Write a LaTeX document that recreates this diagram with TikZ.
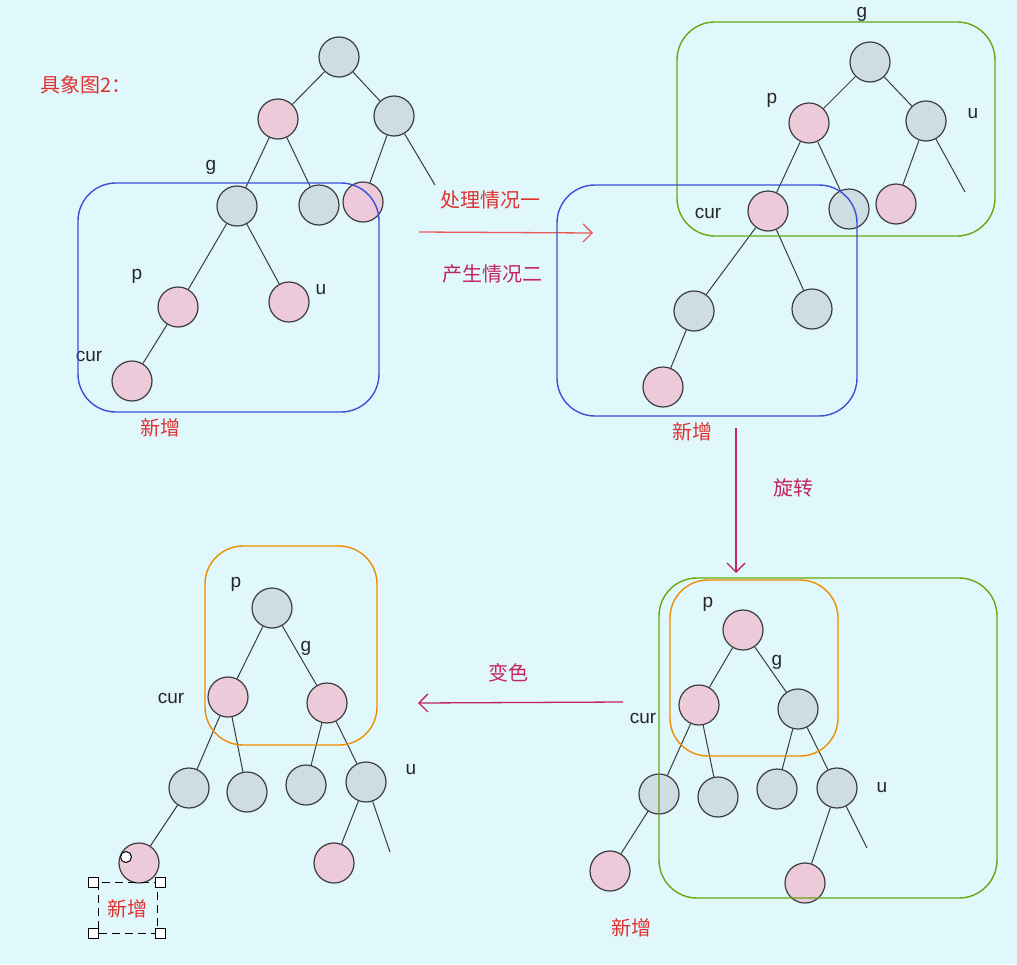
\documentclass[tikz,border=0pt]{standalone}
\usepackage{fontspec}
\setmainfont{Liberation Sans}
\newfontfamily\cjk{Noto Sans CJK SC}
\usetikzlibrary{arrows.meta}
\definecolor{bgc}{RGB}{224,248,251}
\definecolor{grayn}{RGB}{206,221,225}
\definecolor{pinkn}{RGB}{236,202,218}
\definecolor{redt}{RGB}{224,49,49}
\definecolor{crim}{RGB}{194,37,92}
\definecolor{bluebox}{RGB}{59,80,214}
\definecolor{greenbox}{RGB}{102,168,15}
\definecolor{orangebox}{RGB}{240,140,0}
\definecolor{edgec}{RGB}{60,60,60}
\tikzset{
  nd/.style={circle,minimum size=40pt,inner sep=0pt,draw=edgec,line width=1.2pt},
  gn/.style={nd,fill=grayn},
  pn/.style={nd,fill=pinkn},
  edge/.style={draw=edgec,line width=1pt},
  lbl/.style={font=\fontsize{19}{19}\selectfont,text=black!85,inner sep=0pt},
  rt/.style={font=\cjk\fontsize{20}{20}\selectfont,text=redt,inner sep=0pt},
  ct/.style={font=\cjk\fontsize{20}{20}\selectfont,text=crim,inner sep=0pt},
  boxl/.style={rounded corners=38pt,line width=1.4pt},
  arr/.style={line width=1.3pt,-{Straight Barb[length=9pt,width=18pt]}},
}
\begin{document}
\begin{tikzpicture}[x=1pt,y=-1pt]
\useasboundingbox (0,0) rectangle (1017,964);
\fill[bgc] (0,0) rectangle (1017,964);

% title
\node[rt] (title) at (86,85) {具象图2：};

% ---------- tree 1 ----------
\node[gn] (a1) at (339,57) {};
\node[pn] (a2) at (278,119) {};
\node[gn] (a3) at (394,116) {};
\node[gn] (a4) at (237,206) {};
\node[gn] (a5) at (319,205) {};
\node[pn] (a6) at (363,202) {};
\coordinate (a7) at (435,185);
\node[pn] (a8) at (178,307) {};
\node[pn] (a9) at (289,302) {};
\node[pn] (a10) at (132,381) {};
\draw[edge] (a1)--(a2); \draw[edge] (a1)--(a3);
\draw[edge] (a2)--(a4); \draw[edge] (a2)--(a5);
\draw[edge] (a3)--(a6); \draw[edge] (a3)--(a7);
\draw[edge] (a4)--(a8); \draw[edge] (a4)--(a9);
\draw[edge] (a8)--(a10);
\node[lbl] (la4) at (211,167) {g};
\node[lbl] (la8) at (137,276) {p};
\node[lbl] (la9) at (321,290) {u};
\node[lbl] (la10) at (89,356) {cur};
\draw[boxl,bluebox] (78,183) rectangle (379,412);
\node[rt] (new1) at (160,428) {新增};

% arrow 1
\coordinate (s1) at (419,232);
\coordinate (e1) at (593,233);
\draw[arr,redt!80] (s1)--(e1);
\node[rt] (t1) at (490,200) {处理情况一};
\node[ct] (t2) at (492,274) {产生情况二};

% ---------- tree 2 ----------
\node[gn] (b1) at (870,62) {};
\node[pn] (b2) at (809,123) {};
\node[gn] (b3) at (926,121) {};
\node[pn] (b4) at (768,211) {};
\node[gn] (b5) at (849,209) {};
\node[pn] (b6) at (896,204) {};
\coordinate (b7) at (965,192);
\node[gn] (b8) at (694,311) {};
\node[gn] (b9) at (812,309) {};
\node[pn] (b10) at (663,387) {};
\draw[edge] (b1)--(b2); \draw[edge] (b1)--(b3);
\draw[edge] (b2)--(b4); \draw[edge] (b2)--(b5);
\draw[edge] (b3)--(b6); \draw[edge] (b3)--(b7);
\draw[edge] (b4)--(b8); \draw[edge] (b4)--(b9);
\draw[edge] (b8)--(b10);
\node[lbl] (lb1) at (862,14) {g};
\node[lbl] (lb2) at (772,100) {p};
\node[lbl] (lb3) at (973,114) {u};
\node[lbl] (lb4) at (708,213) {cur};
\draw[boxl,greenbox] (677,22) rectangle (995,236);
\draw[boxl,bluebox] (557,185) rectangle (857,416);
\node[rt] (new2) at (692,432) {新增};

% arrow 2
\coordinate (s2) at (736,428);
\coordinate (e2) at (736,573);
\draw[arr,crim] (s2)--(e2);
\node[ct] (t3) at (793,488) {旋转};

% ---------- tree 3 ----------
\node[pn] (c1) at (743,630) {};
\node[pn] (c2) at (699,705) {};
\node[gn] (c3) at (798,709) {};
\node[gn] (c4) at (659,794) {};
\node[gn] (c5) at (718,797) {};
\node[gn] (c6) at (777,789) {};
\node[gn] (c7) at (837,788) {};
\node[pn] (c8) at (610,871) {};
\node[pn] (c9) at (805,883) {};
\coordinate (c10) at (867,848);
\draw[edge] (c1)--(c2); \draw[edge] (c1)--(c3);
\draw[edge] (c2)--(c4); \draw[edge] (c2)--(c5);
\draw[edge] (c3)--(c6); \draw[edge] (c3)--(c7);
\draw[edge] (c4)--(c8);
\draw[edge] (c7)--(c9); \draw[edge] (c7)--(c10);
\node[lbl] (lc1) at (708,604) {p};
\node[lbl] (lc3) at (777,662) {g};
\node[lbl] (lc2) at (643,718) {cur};
\node[lbl] (lc7) at (882,788) {u};
\draw[boxl,orangebox] (670,580) rectangle (838,756);
\draw[boxl,greenbox] (659,578) rectangle (997,898);
\node[rt] (new3) at (631,928) {新增};

% arrow 3
\coordinate (s3) at (623,702);
\coordinate (e3) at (418,703);
\draw[arr,crim] (s3)--(e3);
\node[ct] (t4) at (508,673) {变色};

% ---------- tree 4 ----------
\node[gn] (d1) at (272,608) {};
\node[pn] (d2) at (228,697) {};
\node[pn] (d3) at (327,703) {};
\node[gn] (d4) at (189,788) {};
\node[gn] (d5) at (247,792) {};
\node[gn] (d6) at (306,785) {};
\node[gn] (d7) at (366,782) {};
\node[pn] (d8) at (139,863) {};
\node[pn] (d9) at (334,863) {};
\coordinate (d10) at (390,852);
\draw[edge] (d1)--(d2); \draw[edge] (d1)--(d3);
\draw[edge] (d2)--(d4); \draw[edge] (d2)--(d5);
\draw[edge] (d3)--(d6); \draw[edge] (d3)--(d7);
\draw[edge] (d4)--(d8);
\draw[edge] (d7)--(d9); \draw[edge] (d7)--(d10);
\node[lbl] (ld1) at (236,584) {p};
\node[lbl] (ld3) at (306,648) {g};
\node[lbl] (ld2) at (171,698) {cur};
\node[lbl] (ld7) at (411,770) {u};
\draw[boxl,orangebox] (205,546) rectangle (377,745);
\node[rt] (new4) at (127,909) {新增};
% selection frame
\draw[dashed,line width=1pt,dash pattern=on 8pt off 5pt] (98,882) rectangle (157,933);
\foreach \p in {(93,882),(160,882),(93,933),(160,933)}
  \draw[fill=white,line width=1pt] \p ++(-5,-5) rectangle ++(10,10);
\draw[fill=white,line width=1pt] (126,857) circle (5.5pt);
\end{tikzpicture}
\end{document}
